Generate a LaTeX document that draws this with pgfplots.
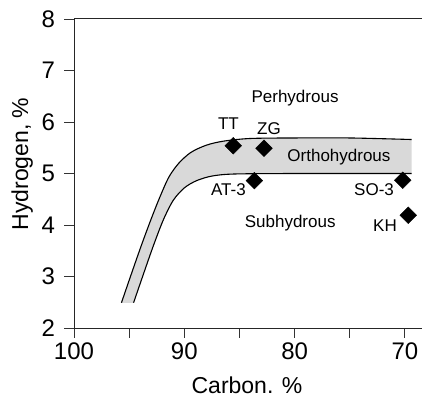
\documentclass[border=0pt]{standalone}
\usepackage{fontspec}
\setmainfont{Liberation Sans}
\usepackage{pgfplots}
\pgfplotsset{compat=1.18}
\usepgfplotslibrary{fillbetween}
\begin{document}
\begin{tikzpicture}
\begin{axis}[
  at={(74pt,69pt)}, anchor=south west, scale only axis,
  width=348pt, height=309pt,
  x dir=reverse, xmin=68.45, xmax=100, ymin=2, ymax=8,
  xtick={70,80,90,100}, minor xtick={75,85,95}, ytick={2,3,4,5,6,7,8},
  tick align=outside, major tick length=9.5pt, minor tick length=9.5pt,
  xtick pos=bottom, ytick pos=left,
  tick style={black!80, line width=0.9pt},
  axis line style={draw=none},
  clip=false,
  /pgf/number format/assume math mode=true,
  ticklabel style={font=\fontsize{24}{26}\selectfont, text=black},
  yticklabel style={xshift=-6pt},
  xticklabel style={yshift=-2pt},
]
% boundaries of the orthohydrous band
\addplot[name path=up, draw=none, smooth] coordinates {
 (95.7,2.49) (94.8,3.05) (93.9,3.6) (93.0,4.12) (92.2,4.55) (91.4,4.93)
 (90.5,5.2) (89.4,5.41) (88,5.55) (86.4,5.63) (84,5.68) (80,5.69)
 (75,5.69) (69.4,5.66)};
\addplot[name path=lo, draw=none, smooth] coordinates {
 (94.6,2.49) (93.7,3.05) (92.8,3.6) (91.9,4.1) (91.0,4.48) (90.0,4.72)
 (88.9,4.86) (87.5,4.95) (85.5,4.99) (80,5.0) (75,5.0) (69.4,5.0)};
\addplot[fill=gray!30, draw=none] fill between[of=up and lo];
\addplot[black, line width=1.1pt, smooth] coordinates {
 (95.7,2.49) (94.8,3.05) (93.9,3.6) (93.0,4.12) (92.2,4.55) (91.4,4.93)
 (90.5,5.2) (89.4,5.41) (88,5.55) (86.4,5.63) (84,5.68) (80,5.69)
 (75,5.69) (69.4,5.66)};
\addplot[black, line width=1.1pt, smooth] coordinates {
 (94.6,2.49) (93.7,3.05) (92.8,3.6) (91.9,4.1) (91.0,4.48) (90.0,4.72)
 (88.9,4.86) (87.5,4.95) (85.5,4.99) (80,5.0) (75,5.0) (69.4,5.0)};
% samples
\addplot[only marks, mark=square*, mark size=5.9pt,
  mark options={rotate=45, fill=black, draw=black}] coordinates {
 (85.56,5.54) (82.78,5.49) (83.65,4.86) (70.2,4.87) (69.7,4.19)};
\begin{scope}[font=\fontsize{17}{19}\selectfont]
\node at (axis cs:79.96,6.46) {Perhydrous};
\node at (axis cs:75.98,5.31) {Orthohydrous};
\node at (axis cs:80.4,4.04) {Subhydrous};
\node at (axis cs:86.0,5.97) {TT};
\node at (axis cs:82.32,5.88) {ZG};
\node at (axis cs:86.0,4.68) {AT-3};
\node at (axis cs:72.8,4.68) {SO-3};
\node at (axis cs:71.8,3.98) {KH};
\end{scope}
\end{axis}
\draw[black!85, line width=1pt] (current axis.north east) -- (current axis.north west)
  -- (current axis.south west) -- (current axis.south east);
\node[anchor=base, inner sep=1pt, font=\fontsize{23}{25}\selectfont] at (247pt,4pt) {Carbon. \%};
\node[anchor=base, rotate=90, font=\fontsize{23}{25}\selectfont] at (28pt,233pt) {Hydrogen, \%};
\pgfresetboundingbox
\path[use as bounding box] (0pt,0pt) rectangle (422pt,397pt);
\end{tikzpicture}
\end{document}
